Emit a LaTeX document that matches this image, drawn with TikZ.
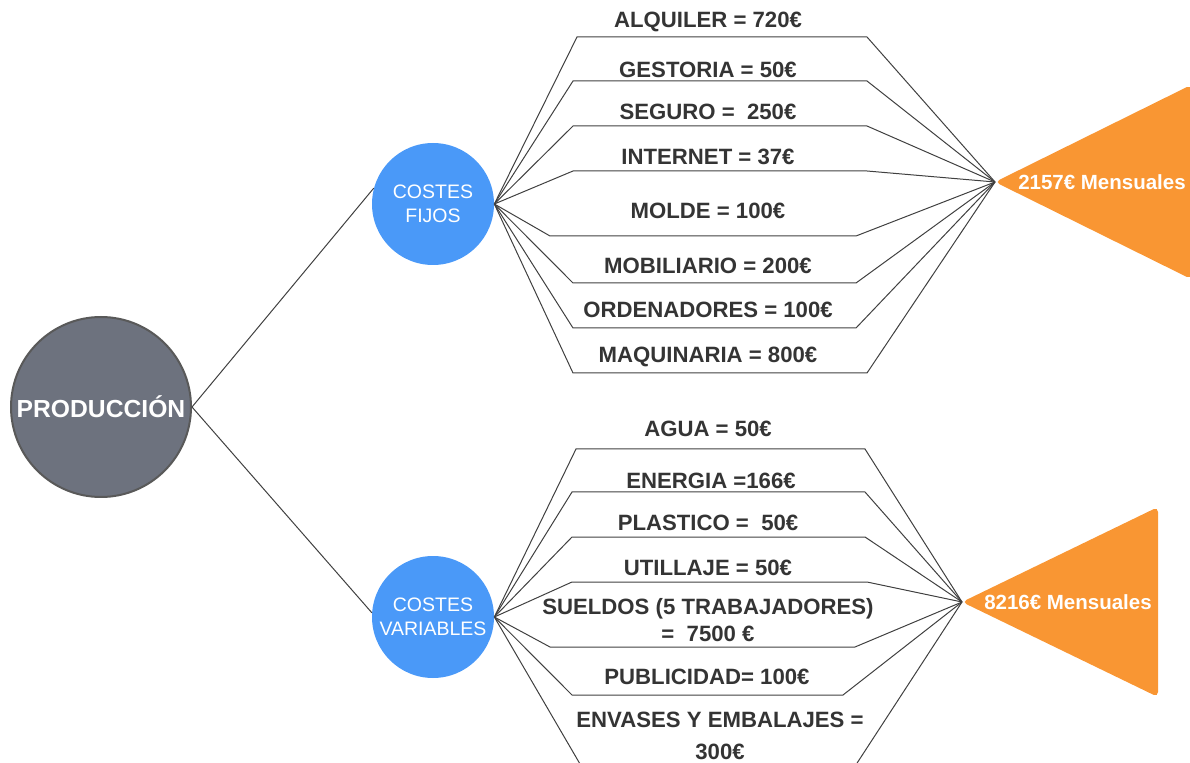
\documentclass[tikz,border=0pt]{standalone}
\usepackage{fontspec}
\setmainfont{Liberation Sans}
\usepackage{xcolor}
\usepackage{tikz}

\definecolor{prodgray}{RGB}{109,114,126}
\definecolor{costblue}{RGB}{74,153,248}
\definecolor{totalorange}{RGB}{249,150,51}
\definecolor{labelgray}{RGB}{52,52,52}

\tikzset{
  ramal/.style={draw=black!75, line width=0.6pt},
  conceptobase/.style={text=labelgray, inner sep=0pt, align=center,
    font=\bfseries\fontsize{13.3}{16.2}\selectfont},
  concepto/.style={conceptobase, text height=9.5pt, text depth=0pt},
  coste/.style={circle, fill=costblue, text=white, minimum size=73.2pt, inner sep=0pt,
    align=center, font=\fontsize{11.7}{14.4}\selectfont},
  total/.style={text=white, inner sep=0pt, font=\bfseries\fontsize{12.3}{14}\selectfont}
}

\begin{document}
\begin{tikzpicture}[x=0.6pt,y=-0.6pt]
        \useasboundingbox (0,0) rectangle (1190,763);
        \clip (0,0) rectangle (1190,763);
        \node[circle, draw=black!65, line width=1.2pt, fill=prodgray, text=white, minimum size=108pt,
          inner sep=0pt, font=\bfseries\fontsize{14.8}{17}\selectfont] (prod) at (101,407) {PRODUCCIÓN};
        \node[coste] (fijos) at (433,204) {COSTES\\FIJOS};
        \node[coste] (vars) at (433,617) {COSTES\\VARIABLES};
        \draw[ramal] (prod.east) -- (fijos.165);
        \draw[ramal] (prod.east) -- (vars.176);

        \coordinate (fijostip) at (995,182);
        \coordinate (varstip) at (962,602);
        \fill[totalorange, rounded corners=3pt] (fijostip) -- (1191,85) -- (1191,279) -- cycle;
        \fill[totalorange, rounded corners=3pt] (varstip) -- (1158,507) -- (1158,697) -- cycle;
        \node[total] (fijostotal) at (1102,182) {2157€ Mensuales};
        \node[total] (varstotal) at (1068,602) {8216€ Mensuales};

        \foreach \y/\xa/\xb in {37/577/867, 81/573/867, 126/573/867, 171/573/867,
                                236/550/856, 283/573/856, 328/573/856, 373/573/867} {
            \draw[ramal] (fijos.east) -- (\xa,\y) -- (\xb,\y) -- (fijostip);
        }
        \foreach \y/\xa/\xb in {449/576/865, 492/572/865, 537/572/865, 582/572/867,
                                647/550/855, 695/572/843, 800/601/833} {
            \draw[ramal] (vars.east) -- (\xa,\y) -- (\xb,\y) -- (varstip);
        }

        \foreach \txt/\y [count=\i] in {ALQUILER = 720€/20, GESTORIA = 50€/70, SEGURO = \ 250€/112,
                                        INTERNET = 37€/157, MOLDE = 100€/211, MOBILIARIO = 200€/266,
                                        ORDENADORES = 100€/310, MAQUINARIA = 800€/355} {
            \node[concepto] (fijo\i) at (708,\y) {\txt};
        }
        \node[concepto] (var1) at (708,429) {AGUA = 50€};
        \node[concepto] (var2) at (711,481) {ENERGIA =166€};
        \node[concepto] (var3) at (708,523) {PLASTICO = \ 50€};
        \node[concepto] (var4) at (708,568) {UTILLAJE = 50€};
        \node[conceptobase] (var5) at (708,620) {SUELDOS (5 TRABAJADORES)\\= \ 7500 €};
        \node[concepto] (var6) at (707,677) {PUBLICIDAD= 100€};
        \node[conceptobase, font=\bfseries\fontsize{13.3}{19.2}\selectfont] (var7) at (720,736)
          {ENVASES Y EMBALAJES =\\300€};
\end{tikzpicture}
\end{document}
